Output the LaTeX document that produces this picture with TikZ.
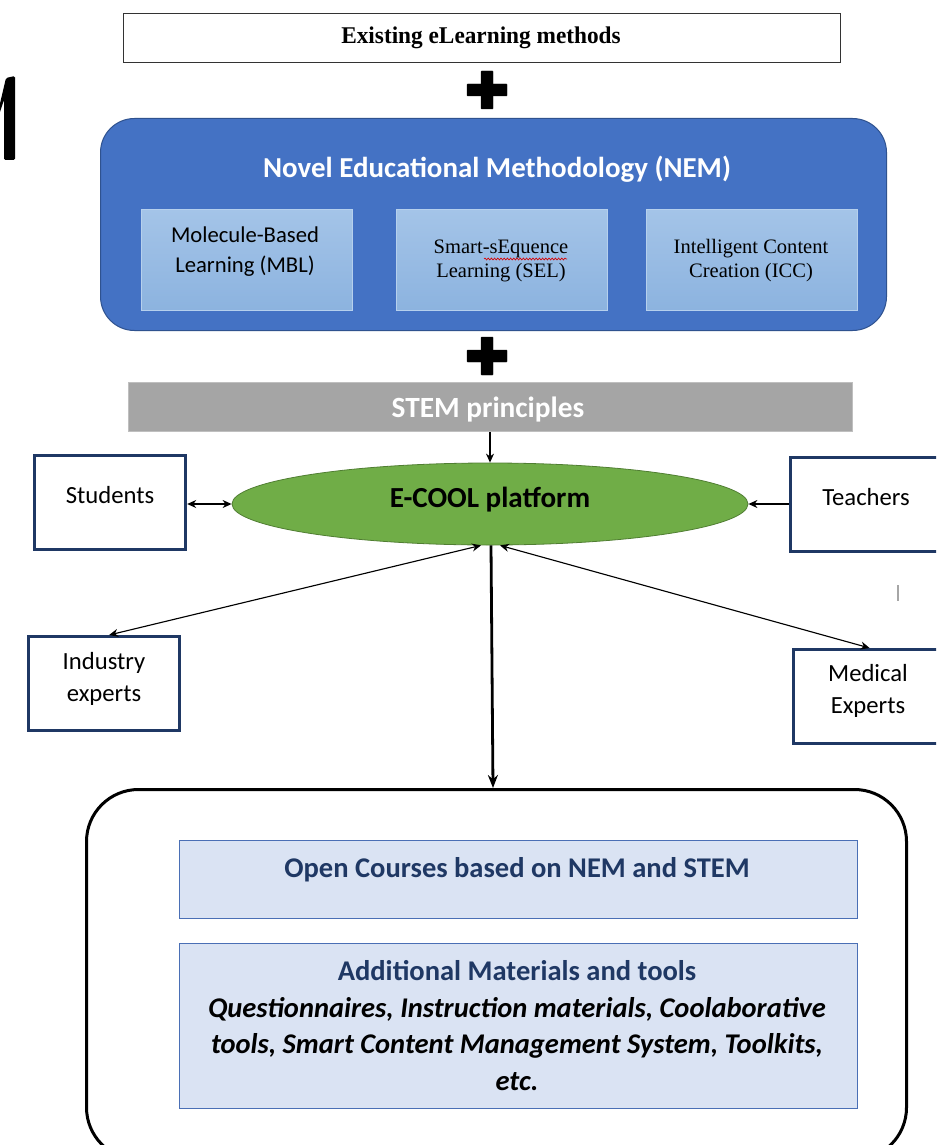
\documentclass[tikz,border=0pt]{standalone}
\usepackage{fontspec}
\setmainfont{Liberation Serif}
\newfontfamily\calibri{Carlito}
\usetikzlibrary{arrows.meta,shapes.geometric,decorations.pathmorphing}

\definecolor{nemblue}{HTML}{4472C4}
\definecolor{nemedge}{HTML}{2F528F}
\definecolor{subtop}{HTML}{A4C4E8}
\definecolor{subbot}{HTML}{8CB3DF}
\definecolor{stemgray}{HTML}{A5A5A5}
\definecolor{stemedge}{HTML}{BFBFBF}
\definecolor{ecoolgreen}{HTML}{70AD47}
\definecolor{ecooledge}{HTML}{507E32}
\definecolor{navy}{HTML}{1F3864}
\definecolor{paleblue}{HTML}{DAE3F3}
\definecolor{paleedge}{HTML}{4A6FB5}

\tikzset{
  actorbox/.style={draw=navy, line width=2.4pt, fill=white, minimum width=113.25pt, minimum height=70.5pt, anchor=north west, inner sep=0pt},
  subbox/.style={draw=subtop!80!white, top color=subtop, bottom color=subbot, minimum width=158.25pt, minimum height=75.75pt, anchor=north west, inner sep=0pt},
  panel/.style={draw=paleedge, line width=0.7pt, fill=paleblue, minimum width=508.5pt, anchor=north west, inner sep=0pt},
  actortxt/.style={align=center, font=\calibri\fontsize{18.5}{24}\selectfont},
  thinarrow/.style={line width=0.85pt, {Stealth[length=6.75pt,width=6pt]}-{Stealth[length=6.75pt,width=6pt]}},
  onearrow/.style={line width=0.85pt, -{Stealth[length=6.75pt,width=6pt]}},
  plusbar/.style={fill=black, draw=black, line width=0.3pt, rounded corners=0.4pt},
}

\begin{document}
\begin{tikzpicture}[x=0.75pt, y=-0.75pt]
\clip (0,0) rectangle (936,1145);
\fill[white] (0,0) rectangle (936,1145);

% right leg of a large letter at the far left edge
\fill[black, rounded corners=1.1pt] (-2,112) -- (6,78) -- (15,76) -- (15,160) -- (4,160) -- (4,100) -- (-2,118) -- cycle;

% top box
\node[draw=black!80, line width=0.6pt, fill=white, minimum width=537.75pt, minimum height=36.75pt, anchor=north west, inner sep=0pt] (exist) at (123,13) {};
\node[font=\bfseries\fontsize{18}{20}\selectfont, xscale=0.97] (existtxt) at (481,38) {Existing eLearning methods};

% plus signs
\foreach \cy/\nm in {90/plusA, 356/plusB}{
  \coordinate (\nm) at (487,\cy);
  \fill[plusbar] ([xshift=-4.5pt,yshift=14.25pt]\nm) rectangle ([xshift=4.5pt,yshift=-14.25pt]\nm);
  \fill[plusbar] ([xshift=-15pt,yshift=4.5pt]\nm) rectangle ([xshift=15pt,yshift=-4.5pt]\nm);
}

% methodology panel
\node[draw=nemedge, line width=0.75pt, fill=nemblue, rounded corners=25.5pt, minimum width=589.5pt, minimum height=159pt,
      anchor=north west, inner sep=0pt] (nem) at (100,118) {};
\node[text=white, font=\calibri\bfseries\fontsize{21.7}{24}\selectfont] (nemtitle) at (497,169) {Novel Educational Methodology (NEM)};

\node[subbox] (mbl) at (141,209) {};
\node[subbox] (sel) at (396,209) {};
\node[subbox] (icc) at (646,209) {};
\node[align=center, font=\calibri\fontsize{17}{22.5}\selectfont] (mbltxt) at (245,252) {Molecule-Based\\Learning (MBL)};
\node[align=center, font=\fontsize{15.4}{18}\selectfont] (seltxt) at (501,261) {Smart-sEquence\\Learning (SEL)};
\node[align=center, font=\fontsize{15.4}{18}\selectfont] (icctxt) at (751,261) {Intelligent Content\\Creation (ICC)};
% spell-check squiggle
\draw[red!85!black, line width=0.5pt, decoration={snake, amplitude=0.7pt, segment length=2.4pt}, decorate]
  (484,259) -- (567,259);

% STEM bar
\node[draw=stemedge, line width=0.6pt, fill=stemgray, minimum width=543pt, minimum height=36.75pt, anchor=north west,
      inner sep=0pt] (stem) at (128,382) {};
\node[text=white, font=\calibri\bfseries\fontsize{22}{24}\selectfont] (stemtxt) at (488,410) {STEM principles};

% platform
\node[ellipse, draw=ecooledge, line width=0.6pt, fill=ecoolgreen, minimum width=387pt, minimum height=61.5pt,
      inner sep=0pt] (ecool) at (490,504) {};
\node[font=\calibri\bfseries\fontsize{21.8}{24}\selectfont] (ecooltxt) at (490,500) {E-COOL platform};

% actors
\node[actorbox] (stud) at (33,454) {};
\node[actortxt] (studtxt) at (110,495) {Students};
\node[actorbox, minimum width=120pt] (teach) at (789,456) {};
\node[actortxt] (teachtxt) at (866,497) {Teachers};
\node[actorbox] (ind) at (27,635) {};
\node[actortxt, font=\calibri\fontsize{18.5}{24.5}\selectfont] (indtxt) at (104,679) {Industry\\experts};
\node[actorbox, minimum width=120pt] (med) at (792,648) {};
\node[actortxt, font=\calibri\fontsize{18.5}{24.5}\selectfont] (medtxt) at (868,691) {Medical\\Experts};

% text cursor mark
\draw[gray!70, line width=0.9pt] (898,585) -- (898,601);

% outcomes container
\node[draw=black, line width=2.25pt, rounded corners=39pt, minimum width=615pt, minimum height=277.5pt, anchor=north west,
      inner sep=0pt] (out) at (85,788) {};
\node[panel, minimum height=58.5pt] (open) at (179,840) {};
\node[text=navy, font=\calibri\bfseries\fontsize{21.4}{24}\selectfont] (opentxt) at (517,870) {Open Courses based on NEM and STEM};
\node[panel, minimum height=123.75pt] (add) at (179,943) {};
\node[text=navy, font=\calibri\bfseries\fontsize{21.4}{24}\selectfont] (addtitle) at (517,971) {Additional Materials and tools};
\node[align=center, font=\calibri\bfseries\itshape\fontsize{21.4}{27.6}\selectfont] (addtxt) at (517,1044)
  {Questionnaires, Instruction materials, Coolaborative\\tools, Smart Content Management System, Toolkits,\\etc.};

% connectors
\coordinate (indtop) at ([xshift=3.75pt]ind.north);
\coordinate (medtop) at ([xshift=-3pt]med.north);
\coordinate (outtop) at (493,788);
\draw[onearrow] (stem.south -| ecool.north) -- (ecool.north);
\draw[thinarrow] (stud.east |- ecool.west) -- (ecool.west);
\draw[onearrow] (teach.west |- ecool.east) -- (ecool.east);
\draw[thinarrow] (indtop) -- ([xshift=-6.75pt]ecool.south);
\draw[thinarrow] (medtop) -- ([xshift=7.5pt]ecool.south);
\draw[line width=2.1pt, -{Stealth[length=9.75pt,width=7.5pt]}] ([xshift=0.75pt]ecool.south) -- (outtop);
\end{tikzpicture}
\end{document}
